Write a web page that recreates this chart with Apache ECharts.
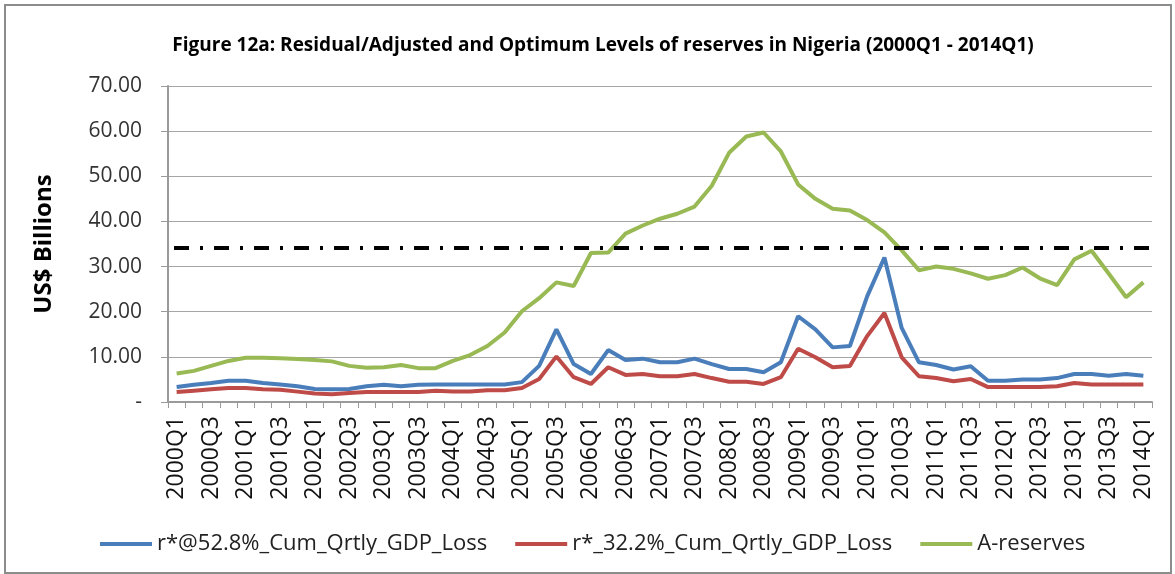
<!DOCTYPE html>
<html lang="en">

<head>
    <meta charset="UTF-8" />
    <title>Figure 12a: Reserves in Nigeria</title>
    <script src="https://cdn.jsdelivr.net/npm/echarts@6/dist/echarts.min.js"></script>
    <style>
        body {
            margin: 0;
            background: #fff;
        }

        #chart {
            position: absolute;
            left: 4px;
            top: 4px;
            width: 1164px;
            height: 566px;
            border: 2px solid #8c8c8c;
        }
    </style>
</head>

<body>
    <div id="chart"></div>

    <script>
        // quarters 2000Q1 .. 2014Q1
        const quarters = [];
        for (let y = 2000; y <= 2014; y++) {
            for (let q = 1; q <= 4; q++) {
                if (y === 2014 && q > 1) break;
                quarters.push(y + 'Q' + q);
            }
        }

        // r* @52.8% cumulative quarterly GDP loss
        const r528 = [
            3.3, 3.8, 4.2, 4.7, 4.7, 4.2, 3.9, 3.5, 2.9, 2.8,
            2.9, 3.5, 3.8, 3.5, 3.8, 3.9, 3.9, 3.9, 3.9, 3.9,
            4.4, 8.0, 16.1, 8.4, 6.2, 11.5, 9.3, 9.6, 8.8, 8.8,
            9.6, 8.4, 7.3, 7.3, 6.6, 8.8, 19.0, 16.1, 12.1, 12.4,
            23.4, 32.0, 16.4, 8.8, 8.2, 7.2, 7.9, 4.7, 4.7, 5.0,
            5.0, 5.3, 6.2, 6.2, 5.8, 6.2, 5.8
        ];

        // r* 32.2% cumulative quarterly GDP loss
        const r322 = [
            2.2, 2.5, 2.8, 3.1, 3.1, 2.8, 2.7, 2.3, 1.9, 1.7,
            2.0, 2.2, 2.2, 2.2, 2.2, 2.5, 2.3, 2.3, 2.6, 2.6,
            3.1, 5.1, 10.1, 5.5, 4.0, 7.7, 6.0, 6.2, 5.7, 5.7,
            6.2, 5.3, 4.5, 4.5, 4.0, 5.5, 11.8, 9.9, 7.7, 8.0,
            14.6, 19.7, 9.9, 5.7, 5.3, 4.6, 5.1, 3.3, 3.3, 3.3,
            3.3, 3.5, 4.2, 3.9, 3.9, 3.9, 3.9
        ];

        // actual reserves
        const aReserves = [
            6.3, 6.9, 8.0, 9.1, 9.8, 9.8, 9.7, 9.5, 9.3, 9.0,
            8.0, 7.6, 7.7, 8.2, 7.5, 7.5, 9.1, 10.4, 12.4, 15.4,
            20.1, 23.0, 26.5, 25.7, 33.0, 33.1, 37.3, 39.1, 40.6, 41.7,
            43.3, 47.9, 55.2, 58.8, 59.7, 55.5, 48.2, 45.0, 42.8, 42.4,
            40.3, 37.6, 33.6, 29.2, 30.0, 29.5, 28.5, 27.3, 28.1, 29.8,
            27.4, 25.9, 31.6, 33.5, 28.4, 23.2, 26.5
        ];

        // optimum reserve level (dash-dot line)
        const optimumLevel = 34.2;

        const seriesNames = ['r*@52.8%_Cum_Qrtly_GDP_Loss', 'r*_32.2%_Cum_Qrtly_GDP_Loss', 'A-reserves'];
        const colors = ['#4a7ebb', '#be4b48', '#98b954'];

        const font = "'Open Sans', 'Liberation Sans', sans-serif";
        const chart = echarts.init(document.getElementById('chart'));

        const lineSeries = (name, data, color) => ({
            name: name,
            type: 'line',
            data: data,
            symbol: 'none',
            lineStyle: { color: color, width: 4 },
            itemStyle: { color: color },
            animation: false
        });

        const green = lineSeries(seriesNames[2], aReserves, colors[2]);
        green.markLine = {
            silent: true,
            symbol: 'none',
            label: { show: false },
            animation: false,
            lineStyle: { color: '#000', width: 4, type: [15, 11, 3, 11], dashOffset: -6 },
            data: [{ yAxis: optimumLevel }]
        };

        const option = {
            animation: false,
            textStyle: { fontFamily: font },
            title: {
                text: 'Figure 12a: Residual/Adjusted and Optimum Levels of reserves in Nigeria (2000Q1 - 2014Q1)',
                left: 592,
                top: 25,
                textAlign: 'center',
                textStyle: { fontFamily: font, fontSize: 19, fontWeight: 'bold', color: '#000' }
            },
            legend: {
                data: seriesNames,
                left: 89,
                top: 522,
                icon: 'rect',
                itemWidth: 52,
                itemHeight: 4,
                itemGap: 28,
                textStyle: { fontFamily: font, fontSize: 22, color: '#222' }
            },
            grid: { left: 162, right: 18, top: 80, bottom: 170 },
            xAxis: {
                type: 'category',
                data: quarters,
                boundaryGap: true,
                axisLine: { lineStyle: { color: '#9a9a9a', width: 2 } },
                axisTick: { show: true, length: 6, interval: 0, lineStyle: { color: '#9a9a9a', width: 1 } },
                axisLabel: {
                    interval: 1,
                    rotate: 90,
                    margin: 14,
                    fontFamily: font,
                    fontSize: 23,
                    color: '#111'
                }
            },
            yAxis: {
                type: 'value',
                min: 0,
                max: 70,
                interval: 10,
                name: 'US$ Billions',
                nameLocation: 'middle',
                nameRotate: 90,
                nameGap: 112,
                nameTextStyle: { fontFamily: font, fontSize: 24, fontWeight: 'bold', color: '#000' },
                axisLine: { show: true, lineStyle: { color: '#9a9a9a', width: 2 } },
                axisTick: { show: true, length: 7, lineStyle: { color: '#9a9a9a' } },
                splitLine: { lineStyle: { color: '#a6a6a6', width: 1 } },
                axisLabel: {
                    margin: 26,
                    fontFamily: font,
                    fontSize: 21,
                    color: '#333',
                    formatter: v => v === 0 ? '-' : v.toFixed(2)
                }
            },
            series: [
                lineSeries(seriesNames[0], r528, colors[0]),
                lineSeries(seriesNames[1], r322, colors[1]),
                green
            ]
        };

        chart.setOption(option);
    </script>
</body>

</html>
